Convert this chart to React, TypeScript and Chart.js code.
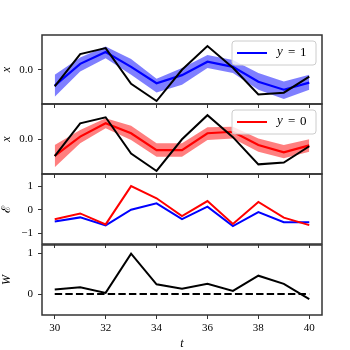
import React, { useEffect, useRef } from 'react';
import { Chart, registerables } from 'chart.js';

Chart.register(...registerables);

// ---------- data ----------
const tValues = [30, 31, 32, 33, 34, 35, 36, 37, 38, 39, 40];
const xTickValues = [30, 32, 34, 36, 38, 40];

const observedX = [-0.56, 0.53, 0.73, -0.47, -1.05, 0.0, 0.8, 0.07, -0.83, -0.77, -0.23];

const blueMean = [-0.53, 0.2, 0.6, 0.1, -0.45, -0.18, 0.27, 0.1, -0.4, -0.67, -0.43];
const blueUpper = [-0.17, 0.41, 0.78, 0.36, -0.3, 0.06, 0.5, 0.33, -0.11, -0.39, -0.17];
const blueLower = [-0.91, -0.06, 0.39, -0.17, -0.76, -0.5, 0.06, -0.11, -0.67, -0.98, -0.67];

const redMean = [-0.55, 0.09, 0.53, 0.2, -0.36, -0.36, 0.2, 0.25, -0.19, -0.43, -0.2];
const redUpper = [-0.19, 0.31, 0.7, 0.45, -0.13, -0.13, 0.4, 0.42, 0.03, -0.19, 0.0];
const redLower = [-0.93, -0.13, 0.37, -0.02, -0.58, -0.58, -0.02, 0.03, -0.41, -0.63, -0.41];

const energyBlue = [-0.51, -0.33, -0.67, 0.0, 0.27, -0.4, 0.13, -0.7, -0.1, -0.54, -0.54];
const energyRed = [-0.41, -0.16, -0.63, 1.01, 0.49, -0.27, 0.37, -0.61, 0.33, -0.34, -0.66];

const weightW = [0.11, 0.17, 0.03, 0.99, 0.24, 0.13, 0.25, 0.08, 0.45, 0.25, -0.12];
const weightZero = [0, 0, 0, 0, 0, 0, 0, 0, 0, 0, 0];

const ticksX = [0];
const ticksEnergy = [-1, 0, 1];
const ticksW = [0, 1];

const legendBlue = '1';
const legendRed = '0';

// ---------- helpers ----------
const FONT = "'Liberation Serif', 'DejaVu Serif', serif";
const pts = (arr: number[]) => arr.map((v, i) => ({ x: tValues[i], y: v }));

const framePlugin = {
  id: 'frame',
  afterDraw(chart: any) {
    const { ctx, chartArea: a } = chart;
    ctx.save();
    ctx.strokeStyle = '#333';
    ctx.lineWidth = 1.5;
    ctx.strokeRect(a.left, a.top, a.right - a.left, a.bottom - a.top);
    ctx.restore();
  },
};

const makeLegendPlugin = (color: string, value: string) => ({
  id: 'innerLegend',
  afterDatasetsDraw(chart: any) {
    const { ctx, chartArea: a } = chart;
    const w = 84;
    const h = 24;
    const x = a.right - 6 - w;
    const y = a.top + 6;
    ctx.save();
    ctx.beginPath();
    if (ctx.roundRect) ctx.roundRect(x, y, w, h, 3);
    else ctx.rect(x, y, w, h);
    ctx.fillStyle = 'rgba(255,255,255,0.8)';
    ctx.fill();
    ctx.strokeStyle = '#cccccc';
    ctx.lineWidth = 1;
    ctx.stroke();
    const cy = y + h / 2;
    ctx.beginPath();
    ctx.moveTo(x + 5, cy);
    ctx.lineTo(x + 35, cy);
    ctx.strokeStyle = color;
    ctx.lineWidth = 2;
    ctx.stroke();
    ctx.fillStyle = '#000';
    ctx.textBaseline = 'middle';
    ctx.textAlign = 'left';
    ctx.font = `italic 13px ${FONT}`;
    ctx.fillText('y', x + 45, cy - 1);
    ctx.font = `13px ${FONT}`;
    ctx.fillText('=', x + 56, cy);
    ctx.fillText(value, x + 68, cy);
    ctx.restore();
  },
});

type PanelSpec = {
  top: number;
  height: number;
  datasets: any[];
  yMin: number;
  yMax: number;
  yTicks: number[];
  yFormat: (v: number) => string;
  yTitle: string;
  yTitleItalic: boolean;
  last: boolean;
  legend?: { color: string; value: string };
};

function makeConfig(p: PanelSpec): any {
  const plugins: any[] = [framePlugin];
  if (p.legend) plugins.push(makeLegendPlugin(p.legend.color, p.legend.value));
  return {
    type: 'line',
    data: { datasets: p.datasets },
    plugins,
    options: {
      responsive: false,
      animation: false,
      layout: { padding: { top: 5, right: 28, bottom: 0, left: 0 } },
      plugins: { legend: { display: false }, tooltip: { enabled: false } },
      elements: { point: { radius: 0 }, line: { tension: 0 } },
      scales: {
        x: {
          type: 'linear',
          min: 29.5,
          max: 40.5,
          afterBuildTicks: (s: any) => {
            s.ticks = xTickValues.map((v) => ({ value: v }));
          },
          afterFit: (s: any) => {
            s.height = p.last ? 35 : 5;
            s.paddingLeft = 0;
            s.paddingRight = 0;
          },
          grid: {
            drawOnChartArea: false,
            drawTicks: true,
            tickLength: 4,
            color: '#333',
            lineWidth: 1,
          },
          border: { display: false },
          ticks: {
            display: p.last,
            padding: 3,
            color: '#000',
            font: { family: FONT, size: 11 },
            maxRotation: 0,
            callback: (v: any) => String(v),
          },
          title: {
            display: p.last,
            text: 't',
            color: '#000',
            padding: { top: 0, bottom: 0 },
            font: { family: FONT, size: 12, style: 'italic', lineHeight: 1 },
          },
        },
        y: {
          type: 'linear',
          min: p.yMin,
          max: p.yMax,
          afterBuildTicks: (s: any) => {
            s.ticks = p.yTicks.map((v) => ({ value: v }));
          },
          afterFit: (s: any) => {
            s.width = 42;
            s.paddingTop = 0;
            s.paddingBottom = 0;
          },
          grid: {
            drawOnChartArea: false,
            drawTicks: true,
            tickLength: 4,
            color: '#333',
            lineWidth: 1,
          },
          border: { display: false },
          ticks: {
            padding: 5,
            color: '#000',
            font: { family: FONT, size: 11 },
            callback: (v: any) => p.yFormat(Number(v)),
          },
          title: {
            display: true,
            text: p.yTitle,
            color: '#000',
            padding: { top: 1, bottom: 0 },
            font: {
              family: FONT,
              size: 12,
              style: p.yTitleItalic ? 'italic' : 'normal',
              lineHeight: 1,
            },
          },
        },
      },
    },
  };
}

const fmtSigned = (v: number) => (v < 0 ? '\u2212' + Math.abs(v) : String(v));

const bandSets = (lower: number[], upper: number[], mean: number[], color: string, fill: string) => [
  {
    data: pts(observedX),
    borderColor: '#000',
    borderWidth: 2,
    pointRadius: 0,
    order: 0,
    fill: false,
  },
  {
    data: pts(mean),
    borderColor: color,
    borderWidth: 2.2,
    pointRadius: 0,
    order: 1,
    fill: false,
  },
  {
    data: pts(lower),
    borderColor: 'rgba(0,0,0,0)',
    borderWidth: 0,
    pointRadius: 0,
    order: 3,
    fill: false,
  },
  {
    data: pts(upper),
    borderColor: 'rgba(0,0,0,0)',
    borderWidth: 0,
    pointRadius: 0,
    order: 2,
    fill: '-1',
    backgroundColor: fill,
  },
];

const panels: PanelSpec[] = [
  {
    top: 30,
    height: 79,
    datasets: bandSets(blueLower, blueUpper, blueMean, '#0000ff', 'rgba(0,0,255,0.5)'),
    yMin: -1.15,
    yMax: 1.17,
    yTicks: ticksX,
    yFormat: (v) => v.toFixed(1),
    yTitle: 'x',
    yTitleItalic: true,
    last: false,
    legend: { color: '#0000ff', value: legendBlue },
  },
  {
    top: 99,
    height: 80,
    datasets: bandSets(redLower, redUpper, redMean, '#ff0000', 'rgba(255,0,0,0.5)'),
    yMin: -1.15,
    yMax: 1.17,
    yTicks: ticksX,
    yFormat: (v) => v.toFixed(1),
    yTitle: 'x',
    yTitleItalic: true,
    last: false,
    legend: { color: '#ff0000', value: legendRed },
  },
  {
    top: 169,
    height: 80,
    datasets: [
      { data: pts(energyRed), borderColor: '#ff0000', borderWidth: 2, pointRadius: 0, order: 0 },
      { data: pts(energyBlue), borderColor: '#0000ff', borderWidth: 2, pointRadius: 0, order: 1 },
    ],
    yMin: -1.47,
    yMax: 1.53,
    yTicks: ticksEnergy,
    yFormat: fmtSigned,
    yTitle: '\u2130',
    yTitleItalic: false,
    last: false,
  },
  {
    top: 240,
    height: 110,
    datasets: [
      { data: pts(weightW), borderColor: '#000', borderWidth: 2, pointRadius: 0, order: 1 },
      {
        data: pts(weightZero),
        borderColor: '#000',
        borderWidth: 2,
        borderDash: [7.4, 3.2],
        pointRadius: 0,
        order: 0,
      },
    ],
    yMin: -0.51,
    yMax: 1.2,
    yTicks: ticksW,
    yFormat: fmtSigned,
    yTitle: 'W',
    yTitleItalic: true,
    last: true,
  },
];

function Panel({ spec }: { spec: PanelSpec }) {
  const ref = useRef<HTMLCanvasElement | null>(null);
  useEffect(() => {
    if (!ref.current) return;
    const chart = new Chart(ref.current, makeConfig(spec));
    return () => chart.destroy();
  }, [spec]);
  return (
    <canvas
      ref={ref}
      width={350}
      height={spec.height}
      style={{ position: 'absolute', left: 0, top: spec.top, width: 350, height: spec.height }}
    />
  );
}

export default function App() {
  return (
    <div
      style={{
        position: 'fixed',
        left: 0,
        top: 0,
        width: 350,
        height: 350,
        background: '#fff',
        overflow: 'hidden',
      }}
    >
      {panels.map((p, i) => (
        <Panel key={i} spec={p} />
      ))}
    </div>
  );
}
